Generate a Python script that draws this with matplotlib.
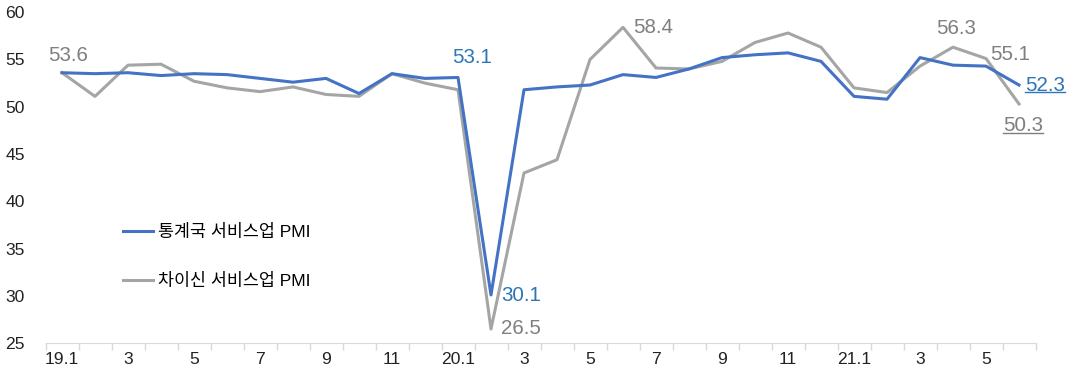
import matplotlib
matplotlib.use("Agg")
import matplotlib.pyplot as plt
from matplotlib.ticker import FixedLocator, NullFormatter

months = ["19.1", "2", "3", "4", "5", "6", "7", "8", "9", "10", "11", "12",
          "20.1", "2", "3", "4", "5", "6", "7", "8", "9", "10", "11", "12",
          "21.1", "2", "3", "4", "5", "6"]
nbs = [53.6, 53.5, 53.6, 53.3, 53.5, 53.4, 53.0, 52.6, 53.0, 51.4, 53.5, 53.0,
       53.1, 30.1, 51.8, 52.1, 52.3, 53.4, 53.1, 54.0, 55.2, 55.5, 55.7, 54.8,
       51.1, 50.8, 55.2, 54.4, 54.3, 52.3]
caixin = [53.6, 51.1, 54.4, 54.5, 52.7, 52.0, 51.6, 52.1, 51.3, 51.1, 53.5, 52.5,
          51.8, 26.5, 43.0, 44.4, 55.0, 58.4, 54.1, 54.0, 54.8, 56.8, 57.8, 56.3,
          52.0, 51.5, 54.3, 56.3, 55.1, 50.3]
nbs_name = "통계국 서비스업 PMI"
caixin_name = "차이신 서비스업 PMI"

FONT = ["Liberation Sans", "Noto Sans CJK KR", "DejaVu Sans"]
plt.rcParams["font.family"] = FONT

BLUE = "#4472C4"
GRAY = "#A5A5A5"
BLUE_T = "#2E75B6"
GRAY_T = "#7F7F7F"

W, H = 1067, 378
fig = plt.figure(figsize=(W / 100, H / 100), dpi=100)
ax = fig.add_axes([45.5 / W, 34.8 / H, 990 / W, 331 / H])

x = list(range(len(months)))
ax.plot(x, caixin, color=GRAY, lw=2.2, label=caixin_name, zorder=2)
ax.plot(x, nbs, color=BLUE, lw=2.2, label=nbs_name, zorder=3)

ax.set_xlim(-0.5, len(months) - 0.5)
ax.set_ylim(25, 60)
ax.set_yticks(range(25, 61, 5))
ax.tick_params(axis="y", length=0, labelsize=12.6, colors="#222222", pad=15)

ax.set_xticks([i for i in x if i % 2 == 0])
ax.set_xticklabels([months[i] for i in x if i % 2 == 0])
ax.xaxis.set_minor_locator(FixedLocator([i - 0.5 for i in range(len(months) + 1)]))
ax.xaxis.set_minor_formatter(NullFormatter())
ax.tick_params(axis="x", which="major", length=0, labelsize=12.6, colors="#222222", pad=6)
ax.tick_params(axis="x", which="minor", length=5, color="#D9D9D9", width=1)

for s in ["top", "right", "left"]:
    ax.spines[s].set_visible(False)
ax.spines["bottom"].set_color("#D9D9D9")

FS = 14.8


def lab(i, series, text, color, dx, dy, ha="left", va="center"):
    return ax.annotate(text, (i, series[i]), xytext=(dx, dy), textcoords="offset pixels",
                       ha=ha, va=va, fontsize=FS, color=color)


lab(0, caixin, "53.6", GRAY_T, 6, 8, ha="center", va="bottom")
lab(12, nbs, "53.1", BLUE_T, 14, 10, ha="center", va="bottom")
lab(13, nbs, "30.1", BLUE_T, 10, -1)
lab(13, caixin, "26.5", GRAY_T, 10, 1)
lab(17, caixin, "58.4", GRAY_T, 10, 0)
lab(27, caixin, "56.3", GRAY_T, 3, 9, ha="center", va="bottom")
lab(28, caixin, "55.1", GRAY_T, 4, 4.5)
t1 = lab(29, nbs, "52.3", BLUE_T, 6, 0)
t2 = lab(29, caixin, "50.3", GRAY_T, 4, -12.5, ha="center", va="top")

fig.canvas.draw()
r = fig.canvas.get_renderer()
for t, c in [(t1, BLUE_T), (t2, GRAY_T)]:
    bb = t.get_window_extent(r)
    y = bb.y0 + 2.5
    fig.add_artist(plt.Line2D([bb.x0 / W, bb.x1 / W], [y / H, y / H], color=c, lw=1))

leg = ax.legend(handles=[ax.lines[1], ax.lines[0]], loc="upper left",
                bbox_to_anchor=(116 / W, (H - 217) / H), bbox_transform=fig.transFigure,
                frameon=False, fontsize=12.5, handlelength=1.75, handletextpad=0.25,
                labelspacing=1.9, borderaxespad=0)

fig.savefig("out.png", dpi=100)
